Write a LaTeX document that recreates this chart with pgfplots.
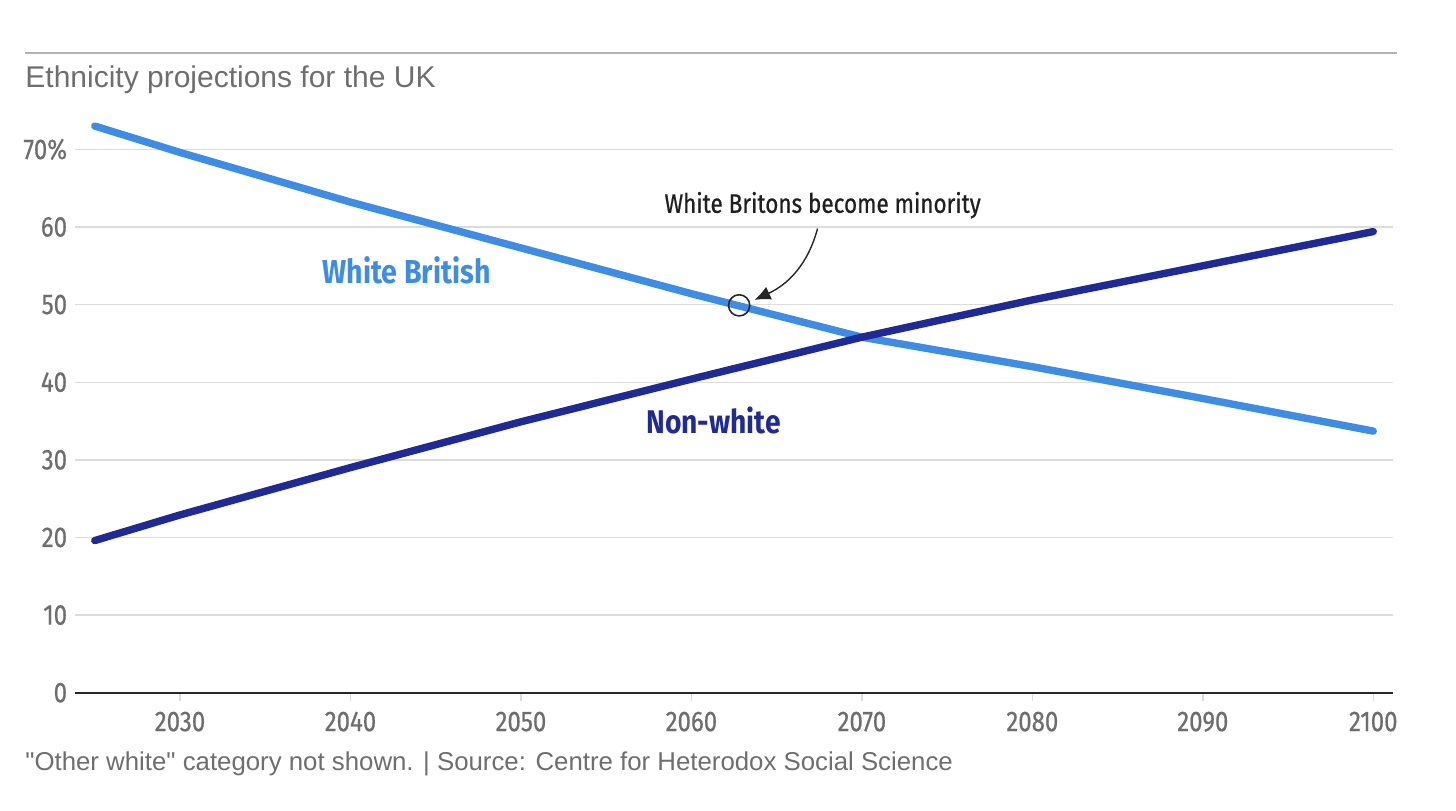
\documentclass[border=0pt]{standalone}
\usepackage{fontspec}
\setmainfont{Liberation Sans}[Ligatures=TeXOff]
\newfontfamily\condfont[FakeStretch=0.84,FakeBold=0.6]{Fira Sans}
\newfontfamily\condbold[FakeStretch=0.86]{Fira Sans}
\usepackage{pgfplots}
\pgfplotsset{compat=1.18}
\usetikzlibrary{arrows.meta}
\definecolor{wbblue}{HTML}{3E8DE3}
\definecolor{nwnavy}{HTML}{1F2A94}
\definecolor{txtgray}{HTML}{6E6E6E}
\definecolor{gridgray}{HTML}{DCDCDC}

\begin{document}
\begin{tikzpicture}[x=1pt,y=1pt]
% page frame (1456x810 px at 0.5pt per px)
\path[use as bounding box] (0,0) rectangle (728,405);
\draw[gray!60, line width=0.8pt] (12.5,378.5) -- (698.5,378.5);
\node[anchor=base west, inner sep=0, text=txtgray, font=\fontsize{15}{17}\selectfont] at (12.5,361) {Ethnicity projections for the UK};
\node[anchor=base west, inner sep=0, text=txtgray, font=\fontsize{12.9}{14}\selectfont] at (12.5,20) {"Other white" category not shown. | Source: Centre for Heterodox Social Science};

\begin{axis}[
  at={(37.5pt,58.65pt)}, anchor=south west,
  scale only axis,
  width=658.85pt, height=291.1pt,
  xmin=2023.84, xmax=2101.14,
  ymin=0, ymax=75,
  axis lines=none,
  xtick=\empty, ytick=\empty,
  clip=false,
]
% grid, ticks and baseline drawn in axis coordinates
\pgfplotsinvokeforeach{10,20,30,40,50,60,70}{
  \draw[gridgray, line width=0.7pt] (axis cs:2023.84,#1) -- (axis cs:2101.14,#1);
}
\pgfplotsinvokeforeach{2030,2040,2050,2060,2070,2080,2090,2100}{
  \draw[gridgray, line width=0.7pt] (axis cs:#1,0) -- (axis cs:#1,-1.1);
  \node[anchor=north, text=txtgray, font=\condfont\fontsize{14.3}{16}\selectfont, inner sep=0] at (axis cs:#1,-2.4) {#1};
}
\pgfplotsinvokeforeach{0,10,20,30,40,50,60}{
  \node[anchor=east, text=txtgray, font=\condfont\fontsize{14.3}{16}\selectfont, inner sep=0] at (axis cs:2023.4,#1) {#1};
}
\node[anchor=east, text=txtgray, font=\condfont\fontsize{14.3}{16}\selectfont, inner sep=0] at (axis cs:2023.4,70) {70\%};
\draw[black!85, line width=1.1pt] (axis cs:2023.84,0) -- (axis cs:2101.14,0);

\addplot[wbblue, line width=3.7pt, line cap=round] coordinates {
  (2025,73.0) (2030,69.6) (2040,63.2) (2050,57.3) (2060,51.4)
  (2070,45.8) (2080,42.0) (2090,37.9) (2100,33.7)};
\addplot[nwnavy, line width=3.7pt, line cap=round] coordinates {
  (2025,19.6) (2030,22.9) (2040,29.0) (2050,34.9) (2060,40.4)
  (2070,45.8) (2080,50.6) (2090,55.0) (2100,59.4)};

\node[text=wbblue, font=\condbold\bfseries\fontsize{16.6}{18}\selectfont] at (axis cs:2043.3,54.4) {White British};
\node[text=nwnavy, font=\condbold\bfseries\fontsize{16.4}{18}\selectfont] at (axis cs:2061.3,35.1) {Non-white};
\node[text=black!88, font=\condfont\fontsize{13.4}{15}\selectfont] at (axis cs:2067.7,62.8) {White Britons become minority};
\draw[black!85, line width=0.8pt] (axis cs:2062.8,49.9) circle[radius=5.3pt];
\draw[black!85, line width=0.7pt, -{Latex[length=8pt,width=7pt]}]
  (axis cs:2067.4,59.8) to[out=-105, in=25] (axis cs:2063.7,50.6);
\end{axis}
\end{tikzpicture}
\end{document}
